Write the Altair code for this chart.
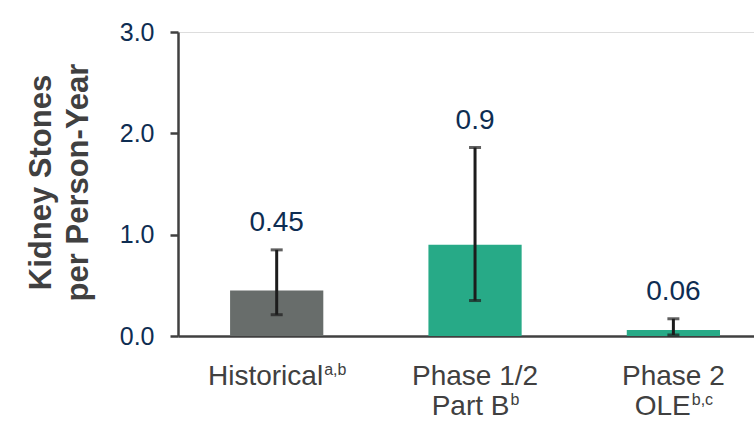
import altair as alt
import pandas as pd

# ---- data ----
categories = ["Historical", "Phase 1/2 Part B", "Phase 2 OLE"]
rates = [0.45, 0.9, 0.06]
ci_low = [0.21, 0.35, 0.01]
ci_high = [0.85, 1.86, 0.17]
rate_labels = ["0.45", "0.9", "0.06"]
label_lines = [["Historical"], ["Phase 1/2", "Part B"], ["Phase 2", "OLE"]]
superscripts = ["a,b", "b", "b,c"]
bar_colors = ["#686d6b", "#27aa87", "#27aa87"]
y_ticks = [0, 1, 2, 3]

FONT = "Liberation Sans"
NAVY = "#0e2d52"
GRAY = "#404040"
MAIN_SIZE = 28
SUP_SIZE = 16

# Arial / Liberation Sans advance widths (per 1000 em)
_W = {"H": 722, "i": 222, "s": 500, "t": 278, "o": 556, "r": 333, "c": 500, "a": 556,
      "l": 222, "P": 667, "h": 556, "e": 556, " ": 278, "1": 556, "/": 278, "2": 556,
      "B": 667, "O": 778, "L": 556, "E": 667, ",": 278, "b": 556}


def text_width(s, size):
    return sum(_W.get(ch, 556) for ch in s) * size / 1000.0


df = pd.DataFrame({
    "category": categories,
    "rate": rates,
    "low": ci_low,
    "high": ci_high,
    "label": rate_labels,
})

xscale = alt.Scale(domain=categories, paddingInner=0.53, paddingOuter=0.217, align=0.605)
x = alt.X("category:N", scale=xscale, sort=categories,
          axis=alt.Axis(title=None, labels=False, ticks=False, domainColor=GRAY,
                        domainWidth=2.5))
yscale = alt.Scale(domain=[0, 3], nice=False)

base = alt.Chart(df)

bars = base.mark_bar().encode(
    x=x,
    y=alt.Y("rate:Q", scale=yscale,
            axis=alt.Axis(values=y_ticks, format=".1f", grid=False,
                          title=["Kidney Stones", "per Person-Year"],
                          titleFontSize=31, titleFontWeight="bold", titleColor=GRAY,
                          titleLineHeight=37, titleX=-137, titleY=150,
                          titleAlign="center", titleBaseline="middle", titleAngle=-90,
                          labelFontSize=25, labelColor=NAVY, labelFont=FONT,
                          labelPadding=16, tickSize=8, tickWidth=2.5, tickColor=GRAY,
                          domainColor=GRAY, domainWidth=2.5)),
    color=alt.Color("category:N", scale=alt.Scale(domain=categories, range=bar_colors),
                    legend=None),
)

err = base.mark_rule(color="#1c1c1c", strokeWidth=3).encode(
    x=alt.X("category:N", sort=categories),
    y=alt.Y("low:Q"),
    y2="high:Q",
)
cap_lo = base.mark_tick(color="#1c1c1c", thickness=3, size=12, orient="horizontal").encode(
    x=alt.X("category:N", sort=categories), y="low:Q")
cap_hi = base.mark_tick(color="#1c1c1c", thickness=3, size=12, orient="horizontal").encode(
    x=alt.X("category:N", sort=categories), y="high:Q")

vals = base.mark_text(fontSize=28, color=NAVY, font=FONT, baseline="alphabetic",
                      dy=-19).encode(
    x=alt.X("category:N", sort=categories), y="high:Q", text="label:N")

# x-axis category labels with superscripts
label_layers = []
line_y = [353, 383]
for cat, lines, sup in zip(categories, label_lines, superscripts):
    for li, line in enumerate(lines):
        d = pd.DataFrame({"category": [cat], "t": [line]})
        is_last = li == len(lines) - 1
        if not is_last:
            label_layers.append(
                alt.Chart(d).mark_text(fontSize=MAIN_SIZE, color=GRAY, font=FONT,
                                       baseline="alphabetic", align="center").encode(
                    x=alt.X("category:N", sort=categories), y=alt.value(line_y[li]),
                    text="t:N"))
        else:
            mw = text_width(line, MAIN_SIZE)
            sw = text_width(sup, SUP_SIZE)
            total = mw + sw
            k = mw - total / 2
            label_layers.append(
                alt.Chart(d).mark_text(fontSize=MAIN_SIZE, color=GRAY, font=FONT,
                                       baseline="alphabetic", align="right", dx=k).encode(
                    x=alt.X("category:N", sort=categories), y=alt.value(line_y[li]),
                    text="t:N"))
            ds = pd.DataFrame({"category": [cat], "t": [sup]})
            label_layers.append(
                alt.Chart(ds).mark_text(fontSize=SUP_SIZE, color=GRAY, font=FONT,
                                        baseline="alphabetic", align="left", dx=k + 1).encode(
                    x=alt.X("category:N", sort=categories), y=alt.value(line_y[li] - 10),
                    text="t:N"))

chart = alt.layer(bars, err, cap_lo, cap_hi, vals, *label_layers).properties(
    width=576, height=304,
    padding={"left": 178, "top": 32, "right": 0, "bottom": 88},
    autosize=alt.AutoSizeParams(type="none"),
).configure_view(stroke=None).configure(font=FONT, background="white")

chart.save("out.html", embed_options={"renderer": "svg", "actions": False})
